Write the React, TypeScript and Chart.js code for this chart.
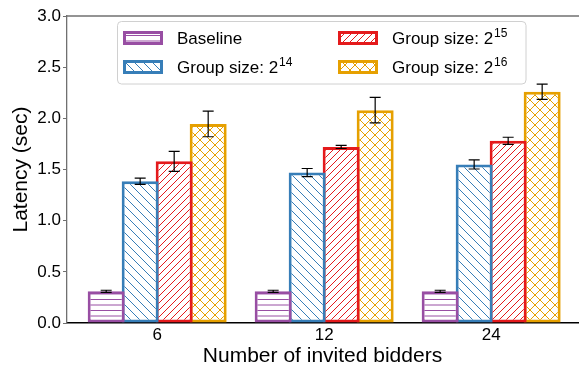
import React, { useEffect, useRef } from 'react';
import { Chart, registerables } from 'chart.js';

Chart.register(...registerables);

// ---- data ----
const categories = ['6', '12', '24'];
const seriesLabels = ['Baseline', 'Group size: 2', 'Group size: 2', 'Group size: 2'];
const seriesSups = ['', '14', '15', '16'];
const baseline = [0.31, 0.31, 0.31];
const group14 = [1.385, 1.47, 1.55];
const group15 = [1.58, 1.72, 1.78];
const group16 = [1.945, 2.08, 2.26];
const errBaseline = [0.01, 0.01, 0.01];
const err14 = [0.03, 0.04, 0.045];
const err15 = [0.098, 0.015, 0.035];
const err16 = [0.125, 0.125, 0.075];
const yTickValues = [0, 0.5, 1.0, 1.5, 2.0, 2.5, 3.0];

const seriesValues = [baseline, group14, group15, group16];
const seriesErrors = [errBaseline, err14, err15, err16];
const colors = ['#984ea3', '#377eb8', '#e41a1c', '#e6a000'];
const hatches = ['h', 'b', 's', 'x'];

const FONT = '"Liberation Sans", Arial, Helvetica, sans-serif';

function makePattern(kind: string, color: string): CanvasPattern | string {
  const c = document.createElement('canvas');
  let w = 9, h = 9;
  if (kind === 'h') { w = 4; h = 11; }
  if (kind === 's') { w = 7; h = 7; }
  if (kind === 'x') { w = 10; h = 10; }
  c.width = w; c.height = h;
  const g = c.getContext('2d')!;
  g.fillStyle = '#ffffff';
  g.fillRect(0, 0, w, h);
  g.strokeStyle = color;
  g.lineWidth = 1;
  const line = (x1: number, y1: number, x2: number, y2: number) => {
    g.beginPath(); g.moveTo(x1, y1); g.lineTo(x2, y2); g.stroke();
  };
  if (kind === 'h') {
    line(0, 2.5, w, 2.5);
    line(0, 8, w, 8);
  } else {
    const s = w;
    if (kind === 'b' || kind === 'x') {
      line(-1, -1, s + 1, s + 1);
      line(-s - 1, -1, 1, s + 1);
      line(s - 1, -1, 2 * s + 1, s + 1);
    }
    if (kind === 's' || kind === 'x') {
      line(-1, s + 1, s + 1, -1);
      line(-s - 1, s + 1, 1, -1);
      line(s - 1, s + 1, 2 * s + 1, -1);
    }
  }
  const p = g.createPattern(c, 'repeat');
  return p || color;
}

export default function App() {
  const ref = useRef<HTMLCanvasElement | null>(null);

  useEffect(() => {
    if (!ref.current) return;
    const patterns = colors.map((col, i) => makePattern(hatches[i], col));

    const overlay = {
      id: 'overlay',
      afterDatasetsDraw(chart: any) {
        const ctx = chart.ctx;
        const y = chart.scales.y;
        ctx.save();
        ctx.strokeStyle = '#000000';
        ctx.lineWidth = 1.2;
        seriesValues.forEach((vals, di) => {
          const meta = chart.getDatasetMeta(di);
          vals.forEach((v, i) => {
            const el = meta.data[i];
            if (!el) return;
            const x = el.x;
            const e = seriesErrors[di][i];
            const yt = y.getPixelForValue(v + e);
            const yb = y.getPixelForValue(v - e);
            ctx.beginPath();
            ctx.moveTo(x, yt); ctx.lineTo(x, yb);
            ctx.moveTo(x - 5.5, yt); ctx.lineTo(x + 5.5, yt);
            ctx.moveTo(x - 5.5, yb); ctx.lineTo(x + 5.5, yb);
            ctx.stroke();
          });
        });
        ctx.restore();
      },
      afterDraw(chart: any) {
        const ctx = chart.ctx;
        const a = chart.chartArea;
        ctx.save();
        // top spine
        ctx.strokeStyle = '#707070';
        ctx.lineWidth = 1.3;
        ctx.beginPath();
        ctx.moveTo(a.left, a.top);
        ctx.lineTo(a.right + 1, a.top);
        ctx.stroke();

        // legend
        const bx = 117.5, by = 21.5, bw = 408.5, bh = 62.5, r = 4;
        ctx.beginPath();
        ctx.moveTo(bx + r, by);
        ctx.lineTo(bx + bw - r, by);
        ctx.arcTo(bx + bw, by, bx + bw, by + r, r);
        ctx.lineTo(bx + bw, by + bh - r);
        ctx.arcTo(bx + bw, by + bh, bx + bw - r, by + bh, r);
        ctx.lineTo(bx + r, by + bh);
        ctx.arcTo(bx, by + bh, bx, by + bh - r, r);
        ctx.lineTo(bx, by + r);
        ctx.arcTo(bx, by, bx + r, by, r);
        ctx.closePath();
        ctx.fillStyle = 'rgba(255,255,255,0.85)';
        ctx.fill();
        ctx.strokeStyle = '#d0d0d0';
        ctx.lineWidth = 1;
        ctx.stroke();

        const cols = [123, 338];
        const rows = [31, 60];
        seriesLabels.forEach((label, i) => {
          const col = Math.floor(i / 2);
          const row = i % 2;
          const sx = cols[col], sy = rows[row];
          ctx.fillStyle = patterns[i] as any;
          ctx.fillRect(sx, sy, 40, 14);
          ctx.strokeStyle = colors[i];
          ctx.lineWidth = 3;
          ctx.strokeRect(sx + 1.5, sy + 1.5, 37, 11);
          ctx.fillStyle = '#000000';
          ctx.textBaseline = 'alphabetic';
          ctx.textAlign = 'left';
          ctx.font = '17px ' + FONT;
          const tx = sx + 54;
          const ty = sy + 13;
          ctx.fillText(label, tx, ty);
          if (seriesSups[i]) {
            const w = ctx.measureText(label).width;
            ctx.font = '12px ' + FONT;
            ctx.fillText(seriesSups[i], tx + w + 1, ty - 7);
          }
        });
        ctx.restore();
      },
    };

    const chart = new Chart(ref.current, {
      type: 'bar',
      data: {
        datasets: seriesValues.map((vals, i) => ({
          label: seriesLabels[i] + seriesSups[i],
          data: vals.map((v, k) => ({ x: k, y: v })),
          backgroundColor: patterns[i] as any,
          borderColor: colors[i],
          borderWidth: 3,
          borderSkipped: false,
          categoryPercentage: 0.8144,
          barPercentage: 1.088,
          inflateAmount: 0,
        })),
      },
      options: {
        animation: false,
        responsive: false,
        devicePixelRatio: 1,
        layout: { padding: { top: 16, right: 1, left: 0, bottom: 0 } },
        plugins: {
          legend: { display: false },
          tooltip: { enabled: false },
        },
        events: [],
        scales: {
          x: {
            type: 'linear',
            offset: false,
            min: -0.54,
            max: 2.52,
            z: 1,
            afterBuildTicks: (scale: any) => {
              scale.ticks = categories.map((_, i) => ({ value: i }));
            },
            afterFit: (scale: any) => { scale.height = 43; },
            grid: { display: false, drawTicks: false, tickLength: 0 },
            border: { display: true, color: '#000000', width: 1.5 },
            ticks: {
              color: '#000000',
              font: { family: FONT, size: 17 },
              padding: 2,
              autoSkip: false,
              maxRotation: 0,
              callback: (v: any) => categories[Math.round(Number(v))] ?? '',
            },
            title: {
              display: true,
              text: 'Number of invited bidders',
              color: '#000000',
              font: { family: FONT, size: 21 },
              padding: { top: 0, bottom: -3 },
            },
          },
          y: {
            min: 0,
            max: 3,
            z: 1,
            afterBuildTicks: (scale: any) => {
              scale.ticks = yTickValues.map((v) => ({ value: v }));
            },
            afterFit: (scale: any) => { scale.width = 67; },
            grid: { drawOnChartArea: false, drawTicks: true, tickLength: 4, color: '#707070', lineWidth: 1 },
            border: { display: true, color: '#707070', width: 1.3 },
            ticks: {
              color: '#000000',
              font: { family: FONT, size: 17 },
              padding: 2,
              callback: (v: any) => Number(v).toFixed(1),
            },
            title: {
              display: true,
              text: 'Latency (sec)',
              color: '#000000',
              font: { family: FONT, size: 21 },
              padding: { top: 9, bottom: 0 },
            },
          },
        },
      },
      plugins: [overlay],
    } as any);

    return () => chart.destroy();
  }, []);

  return (
    <div style={{ position: 'absolute', left: 0, top: 0, width: 579, height: 366, background: '#ffffff' }}>
      <canvas ref={ref} width={579} height={366} style={{ display: 'block', width: 579, height: 366 }} />
    </div>
  );
}
